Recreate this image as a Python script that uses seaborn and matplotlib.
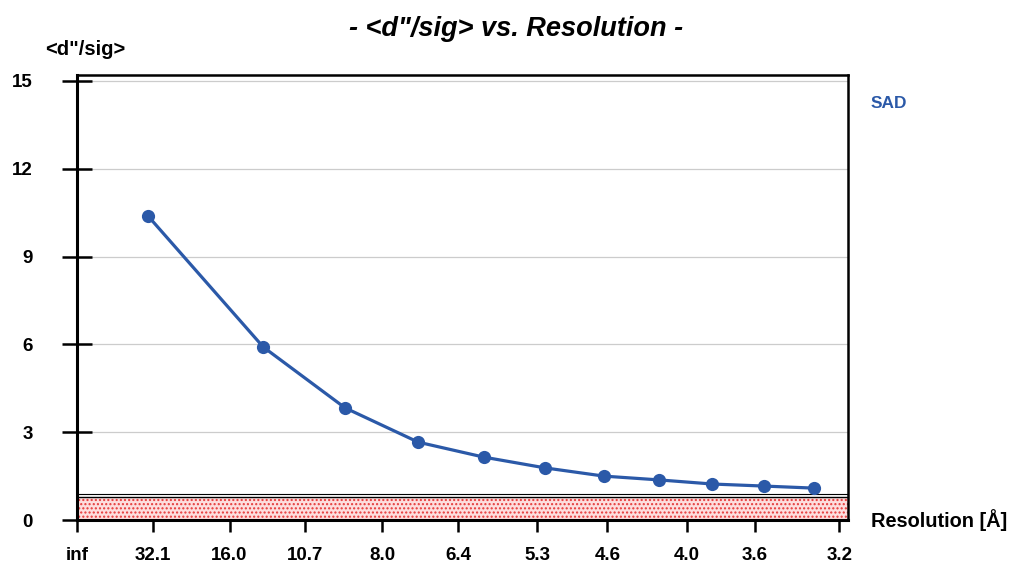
import numpy as np
import pandas as pd
import matplotlib
matplotlib.use("Agg")
import matplotlib.pyplot as plt
import seaborn as sns

# Resolution shells (Å) and mean anomalous signal <d"/sig>
resolution = [34.4, 13.1, 9.1, 7.15, 6.0, 5.21, 4.63, 4.19, 3.84, 3.55, 3.31]
dsig = [10.39, 5.91, 3.83, 2.66, 2.15, 1.78, 1.50, 1.37, 1.23, 1.16, 1.09]
tick_labels = ["inf", "32.1", "16.0", "10.7", "8.0", "6.4", "5.3", "4.6", "4.0", "3.6", "3.2"]
y_ticks = [0, 3, 6, 9, 12, 15]
noise_level = 0.8
cutoff_line = 0.9

sns.set_theme(style="white")
plt.rcParams["font.family"] = ["Liberation Sans", "DejaVu Sans"]
plt.rcParams["text.color"] = "black"
plt.rcParams["xtick.color"] = "black"
plt.rcParams["ytick.color"] = "black"

df = pd.DataFrame({"inv_d": 1.0 / np.array(resolution), "dsig": dsig})
tick_pos = [0.0 if t == "inf" else 1.0 / float(t) for t in tick_labels]

fig = plt.figure(figsize=(10.11, 5.65), dpi=100)
ax = fig.add_axes([0.0762, 0.0796, 0.7626, 0.7874])

line_color = "#2b59a8"

# noise band
ax.axhspan(0, noise_level, facecolor="#fddede", edgecolor="#e53a3a", hatch="....",
           linewidth=0, zorder=1)
ax.axhline(noise_level, color="black", lw=1.0, zorder=2)
ax.axhline(cutoff_line, color="black", lw=0.8, zorder=2)

for y in y_ticks[1:]:
    ax.axhline(y, color="#cccccc", lw=0.9, zorder=0)

sns.lineplot(data=df, x="inv_d", y="dsig", ax=ax, color=line_color, lw=2.3,
             marker="o", markersize=9.5, markeredgewidth=0, zorder=3)

ax.set_xlim(0, 0.316)
ax.set_ylim(0, 15.2)
ax.set_xticks(tick_pos)
ax.set_xticklabels(tick_labels)
ax.set_yticks(y_ticks)
ax.set_yticklabels([str(v) for v in y_ticks])
ax.set_xlabel("")
ax.set_ylabel("")

for s in ax.spines.values():
    s.set_color("black")
    s.set_linewidth(1.8)
ax.spines["left"].set_linewidth(2.2)
ax.spines["bottom"].set_linewidth(2.2)

ax.tick_params(axis="y", direction="inout", length=22, width=1.8, pad=21,
               labelsize=13.5, left=True)
ax.tick_params(axis="x", direction="inout", length=17, width=1.8, pad=11,
               labelsize=13.5, bottom=True)
for lab in ax.get_xticklabels() + ax.get_yticklabels():
    lab.set_fontweight("bold")

fig.text(0.51, 0.948, "- <d\"/sig> vs. Resolution -", ha="center", va="center",
         fontsize=19.5, fontweight="bold", style="italic")
fig.text(0.084, 0.912, "<d\"/sig>", ha="center", va="center", fontsize=14.5,
         fontweight="bold")
fig.text(0.862, 0.079, "Resolution [Å]", ha="left", va="center", fontsize=14.4,
         fontweight="bold")
fig.text(0.861, 0.817, "SAD", ha="left", va="center", fontsize=12.4,
         fontweight="bold", color=line_color)

fig.savefig("out.png", dpi=100)
